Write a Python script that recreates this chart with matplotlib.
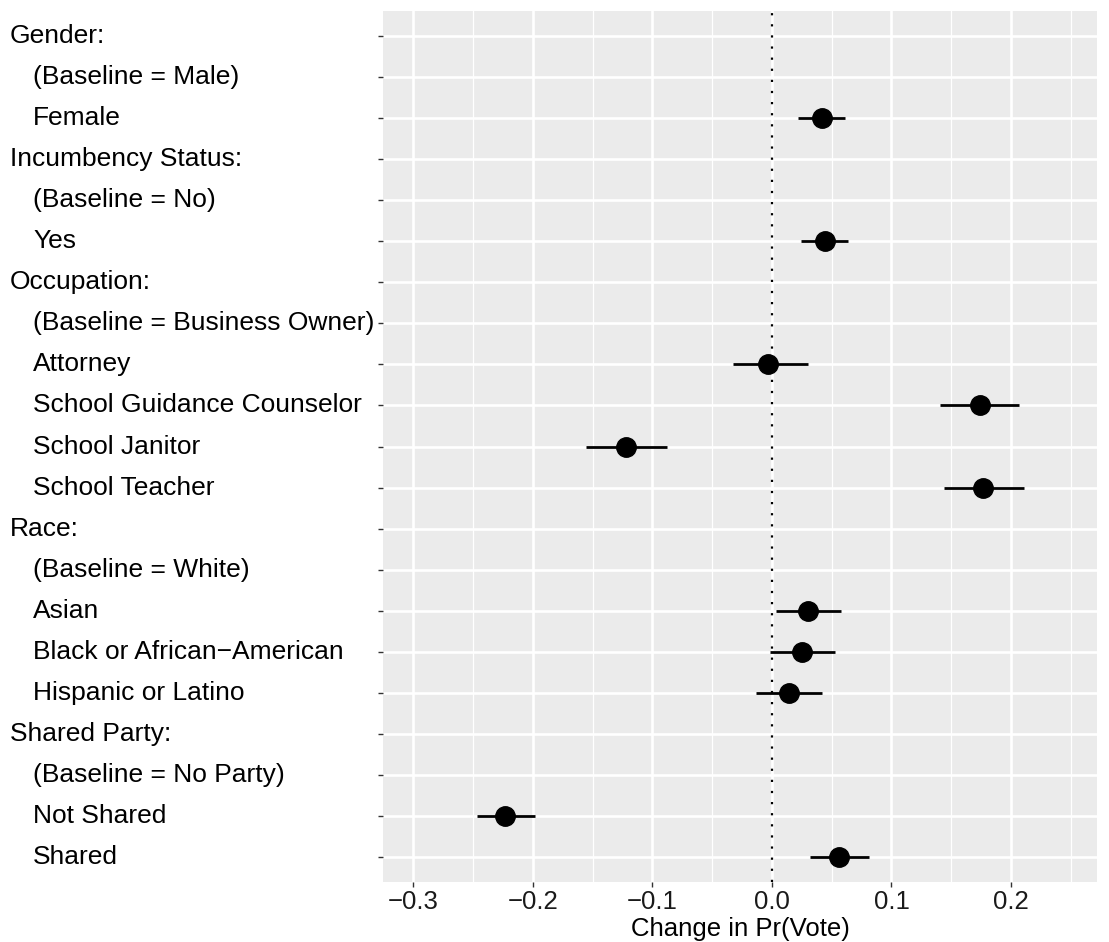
import matplotlib
matplotlib.use("Agg")
import matplotlib.pyplot as plt
from matplotlib.transforms import blended_transform_factory
from matplotlib.ticker import MultipleLocator

plt.rcParams["font.family"] = ["Liberation Sans", "DejaVu Sans"]

# rows from top to bottom; headers are flush left, levels indented
labels = [
    "Gender:", "(Baseline = Male)", "Female",
    "Incumbency Status:", "(Baseline = No)", "Yes",
    "Occupation:", "(Baseline = Business Owner)", "Attorney",
    "School Guidance Counselor", "School Janitor", "School Teacher",
    "Race:", "(Baseline = White)", "Asian",
    "Black or African\u2212American", "Hispanic or Latino",
    "Shared Party:", "(Baseline = No Party)", "Not Shared", "Shared",
]
is_header = [l.endswith(":") for l in labels]

# estimates (None = header / baseline row)
estimate = [None, None, 0.042, None, None, 0.044, None, None, -0.003,
            0.174, -0.122, 0.177, None, None, 0.030, 0.025, 0.014,
            None, None, -0.223, 0.056]
lower = [None, None, 0.022, None, None, 0.024, None, None, -0.033,
         0.141, -0.156, 0.144, None, None, 0.003, -0.002, -0.013,
         None, None, -0.247, 0.032]
upper = [None, None, 0.061, None, None, 0.064, None, None, 0.030,
         0.207, -0.088, 0.211, None, None, 0.058, 0.053, 0.042,
         None, None, -0.198, 0.081]

xticks = [-0.3, -0.2, -0.1, 0.0, 0.1, 0.2]

fig = plt.figure(figsize=(11.09, 9.42), dpi=100)
ax = fig.add_axes([383 / 1109, 60 / 942, (1097 - 383) / 1109, (931 - 60) / 942])
ax.set_facecolor("#EBEBEB")

n = len(labels)
ypos = [n - 1 - i for i in range(n)]

for y, e, lo, hi in zip(ypos, estimate, lower, upper):
    if e is None:
        continue
    ax.plot([lo, hi], [y, y], color="black", lw=2.0, solid_capstyle="butt", zorder=3)
    ax.plot(e, y, "o", color="black", markersize=14, zorder=4)

ax.axvline(0, color="black", lw=1.6, linestyle=(0, (1, 4)), dash_capstyle="butt", zorder=2)

ax.set_xlim(-0.3255, 0.272)
ax.set_ylim(-0.6, n - 1 + 0.6)
ax.set_xticks(xticks)
ax.set_xticklabels([f"{t:.1f}".replace("-", "\u2212") for t in xticks])
ax.xaxis.set_minor_locator(MultipleLocator(0.05))
ax.set_yticks(ypos)
ax.set_yticklabels([])

ax.grid(True, which="major", color="white", lw=1.9)
ax.grid(True, which="minor", axis="x", color="white", lw=0.9)
ax.set_axisbelow(True)
for s in ax.spines.values():
    s.set_visible(False)

ax.tick_params(axis="both", which="major", length=3.6, width=1.0, color="#333333",
               labelsize=18.5, labelcolor="#1a1a1a", pad=2.5)
ax.tick_params(axis="x", which="minor", length=0)
ax.set_xlabel("Change in Pr(Vote)", fontsize=18.5, color="black", labelpad=2)

trans = blended_transform_factory(fig.transFigure, ax.transData)
for y, lab, head in zip(ypos, labels, is_header):
    x = 10 / 1109 if head else 33 / 1109
    ax.text(x, y, lab, transform=trans, ha="left", va="center",
            fontsize=19, color="black", clip_on=False)

fig.savefig("out.png", dpi=100)
